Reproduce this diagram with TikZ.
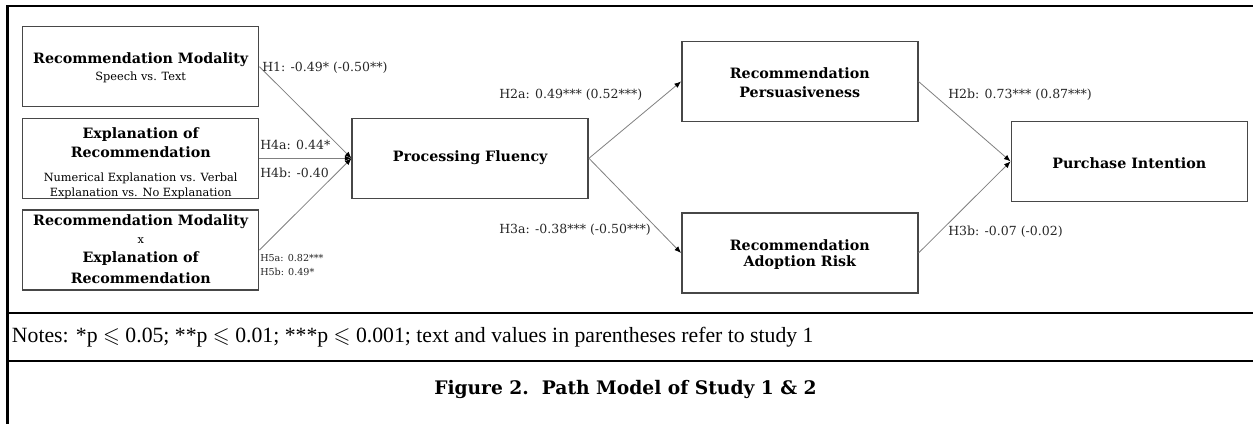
\documentclass[tikz,border=0pt]{standalone}
\usepackage{amssymb}
\usepackage{fontspec}
\setmainfont{DejaVu Serif}
\newfontfamily\notesfont{Liberation Serif}
\usetikzlibrary{arrows.meta}
\begin{document}
\begin{tikzpicture}[x=0.75pt,y=-0.75pt,
  box/.style={draw=black!72, line width=1.1pt, inner sep=0pt, minimum width=177pt, minimum height=60pt},
  bt/.style={font=\fontsize{10.7}{12}\selectfont\bfseries, inner sep=0pt},
  st/.style={font=\fontsize{8.5}{10}\selectfont, inner sep=0pt},
  lab/.style={font=\fontsize{9.4}{11}\selectfont, inner sep=0pt, anchor=west, text=black!85},
  slab/.style={font=\fontsize{7.2}{9}\selectfont, inner sep=0pt, anchor=west, text=black!85},
  conn/.style={draw=black!50, line width=0.6pt},
  arr/.style={conn, -{Latex[black,length=5pt,width=4pt]}},
  rulebar/.style={line width=1.9pt, draw=black}
]
\useasboundingbox (0,0) rectangle (1253,424);
\fill[white] (0,0) rectangle (1253,424);

% frame
\draw[rulebar] (7.5,424) -- (7.5,6) -- (1253,6);
\draw[rulebar] (7.5,313) -- (1253,313);
\draw[rulebar] (7.5,361) -- (1253,361);

% boxes
\node[box] (rm) at (140.7,66.7) {};
\node[bt] (rmt1) at (140.7,60) {Recommendation Modality};
\node[st] (rmt2) at (140.7,77) {Speech vs. Text};

\node[box] (ex) at (140.7,158.3) {};
\node[bt] (ext1) at (140.7,134.5) {Explanation of};
\node[bt] (ext2) at (140.7,151.7) {Recommendation};
\node[st] (ext3) at (140.7,178.5) {Numerical Explanation vs. Verbal};
\node[st] (ext4) at (140.7,193.5) {Explanation vs. No Explanation};

\node[box] (ix) at (140.7,250) {};
\node[bt] (ixt1) at (140.7,222) {Recommendation Modality};
\node[st] (ixt2) at (140.7,241) {x};
\node[bt] (ixt3) at (140.7,259) {Explanation of};
\node[bt] (ixt4) at (140.7,278) {Recommendation};

\node[box] (pf) at (470.2,158.3) {};
\node[bt] (pft) at (470.2,158) {Processing Fluency};

\node[box] (rp) at (799.8,81.5) {};
\node[bt] (rpt1) at (799.8,73) {Recommendation};
\node[bt] (rpt2) at (799.8,92) {Persuasiveness};

\node[box] (ar) at (799.8,253) {};
\node[bt] (art1) at (799.8,245) {Recommendation};
\node[bt] (art2) at (799.8,263) {Adoption Risk};

\node[box] (pi) at (1129.3,161.4) {};
\node[bt] (pit) at (1129.3,162.7) {Purchase Intention};

% connectors
\draw[arr] (rm.east) -- (pf.west);
\draw[arr] (ex.east) -- (pf.west);
\draw[arr] (ix.east) -- (pf.west);
\draw[arr] (pf.east) -- (rp.west);
\draw[arr] (pf.east) -- (ar.west);
\draw[arr] (rp.east) -- (pi.west);
\draw[arr] (ar.east) -- (pi.west);

% labels
\node[lab] (l1) at (262,68) {H1: -0.49* (-0.50**)};
\node[lab] (l4a) at (260,145) {H4a: 0.44*};
\node[lab] (l4b) at (260,173) {H4b: -0.40};
\node[slab] (l5a) at (260,258) {H5a: 0.82***};
\node[slab] (l5b) at (260,272) {H5b: 0.49*};
\node[lab] (l2a) at (499,95) {H2a: 0.49*** (0.52***)};
\node[lab] (l3a) at (499,230) {H3a: -0.38*** (-0.50***)};
\node[lab] (l2b) at (948,95) {H2b: 0.73*** (0.87***)};
\node[lab] (l3b) at (948,231.5) {H3b: -0.07 (-0.02)};

% notes and caption
\node[anchor=west, inner sep=0pt, font=\notesfont\fontsize{16.3}{18}\selectfont] (notes) at (11.7,337)
  {Notes: *p $\leqslant$ 0.05; **p $\leqslant$ 0.01; ***p $\leqslant$ 0.001; text and values in parentheses refer to study 1};
\node[inner sep=0pt, font=\fontsize{14}{16}\selectfont\bfseries] (cap) at (625.5,389)
  {Figure 2.\ \ Path Model of Study 1 \& 2};
\end{tikzpicture}
\end{document}
